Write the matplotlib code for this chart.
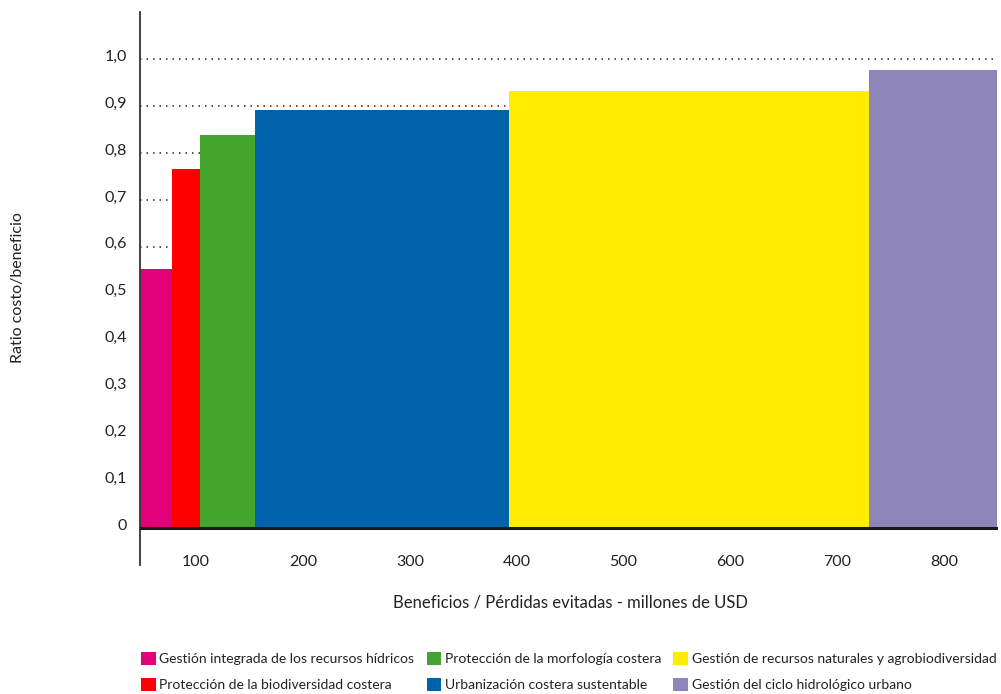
import matplotlib
matplotlib.use("Agg")
import matplotlib.pyplot as plt
from matplotlib.patches import Patch
import matplotlib.transforms as mtransforms

plt.rcParams['font.family'] = ['Lato', 'DejaVu Sans']

# ---- data ----
categories = [
    "Gestión integrada de los recursos hídricos",
    "Protección de la biodiversidad costera",
    "Protección de la morfología costera",
    "Urbanización costera sustentable",
    "Gestión de recursos naturales y agrobiodiversidad",
    "Gestión del ciclo hidrológico urbano",
]
x_start = 47.5
widths = [29.7, 26.5, 51.6, 238.0, 336.5, 120.2]
ratios = [0.553, 0.766, 0.839, 0.892, 0.933, 0.978]
colors = ["#E2007A", "#FF0000", "#43A52E", "#0062A8", "#FFEC00", "#8E86B9"]
x_ticks = [100, 200, 300, 400, 500, 600, 700, 800]
y_ticks = [0, 0.1, 0.2, 0.3, 0.4, 0.5, 0.6, 0.7, 0.8, 0.9, 1.0]
y_tick_labels = ["0", "0,1", "0,2", "0,3", "0,4", "0,5", "0,6", "0,7", "0,8", "0,9", "1,0"]

W, H = 1001, 694
fig = plt.figure(figsize=(W / 100, H / 100), dpi=100)
left, right, top, bottom = 140, 998, 12, 565
ax = fig.add_axes([left / W, 1 - bottom / H, (right - left) / W, (bottom - top) / H])

lefts = []
pos = x_start
for w in widths:
    lefts.append(pos)
    pos += w

ax.bar(lefts, ratios, width=widths, align='edge', color=colors, zorder=2, linewidth=0)

ax.set_xlim(x_start, x_start + sum(widths) + 0.5)
ax.set_ylim(-0.0785, 1.101)

# dotted grid behind the bars
for yv in y_ticks[1:]:
    ax.axhline(yv, color="#333333", linestyle=(0, (0.9, 3.0)), linewidth=1.2, zorder=1)
# baseline
ax.axhline(0, color="#1a1a1a", linewidth=2.2, zorder=3)

for s in ["top", "right", "bottom"]:
    ax.spines[s].set_visible(False)
ax.spines["left"].set_color("#333333")
ax.spines["left"].set_linewidth(1.3)

ax.set_yticks(y_ticks)
ax.set_yticklabels(y_tick_labels)
ax.tick_params(axis='y', length=0, pad=9.5, labelsize=11.5, labelcolor="#222222")
offset = mtransforms.ScaledTranslation(0, 4 / 100, fig.dpi_scale_trans)
for lab in ax.get_yticklabels():
    lab.set_transform(lab.get_transform() + offset)

ax.set_xticks(x_ticks)
ax.set_xticklabels([str(v) for v in x_ticks])
ax.tick_params(axis='x', length=0, pad=-7.5, labelsize=11.5, labelcolor="#222222")

fig.text(570 / W, 1 - 603 / H, "Beneficios / Pérdidas evitadas - millones de USD",
         ha='center', va='center', fontsize=12, color="#222222")
fig.text(18 / W, 1 - 288 / H, "Ratio costo/beneficio", rotation=90,
         ha='center', va='center', fontsize=11.5, color="#222222")

handles = [Patch(facecolor=c, edgecolor='none') for c in colors]
fig.legend(handles, categories, ncol=3, loc='upper left',
           bbox_to_anchor=(141 / W, 1 - 652 / H), frameon=False,
           fontsize=10, handlelength=1.05, handleheight=1.05, handletextpad=0.25,
           columnspacing=0.9, labelspacing=0.9, borderaxespad=0, borderpad=0,
           labelcolor="#222222")

fig.savefig("out.png", dpi=100)
